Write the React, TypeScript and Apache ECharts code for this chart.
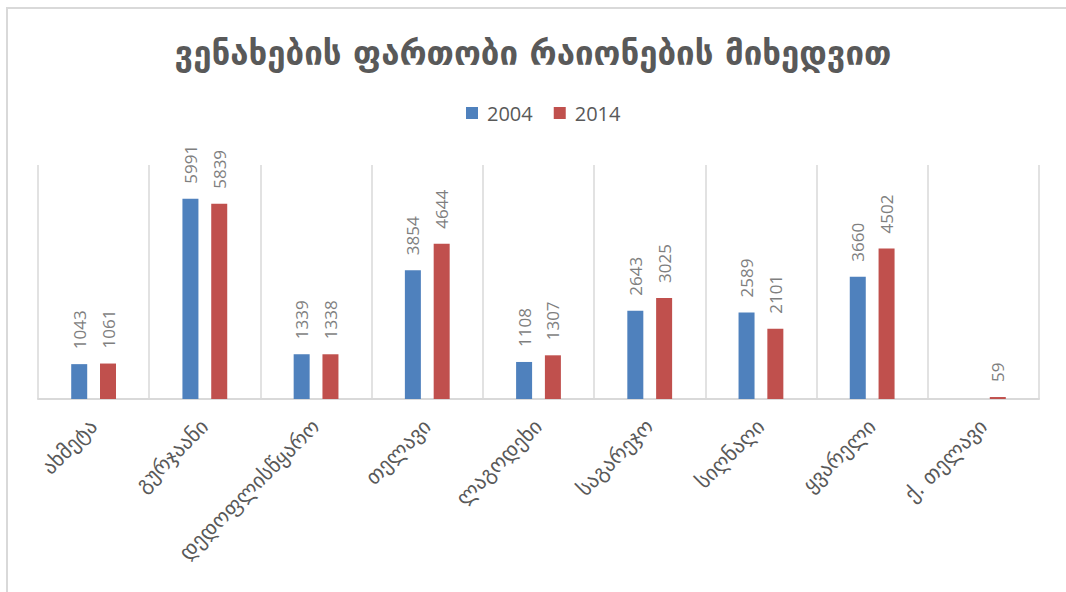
import React, { useEffect, useRef } from "react";
import * as echarts from "echarts";

const titleText = "ვენახების ფართობი რაიონების მიხედვით";
const categories = [
  "ახმეტა",
  "გურჯაანი",
  "დედოფლისწყარო",
  "თელავი",
  "ლაგოდეხი",
  "საგარეჯო",
  "სიღნაღი",
  "ყვარელი",
  "ქ. თელავი",
];
const seriesNames = ["2004", "2014"];
const values2004: (number | null)[] = [1043, 5991, 1339, 3854, 1108, 2643, 2589, 3660, null];
const values2014: (number | null)[] = [1061, 5839, 1338, 4644, 1307, 3025, 2101, 4502, 59];
const colors = ["#4F81BD", "#C0504D"];

export default function App() {
  const ref = useRef<HTMLDivElement>(null);
  useEffect(() => {
    if (!ref.current) return;
    const chart = echarts.init(ref.current, null, { renderer: "svg" });
    const labelCfg = {
      show: true,
      position: "top",
      rotate: 90,
      align: "left",
      verticalAlign: "middle",
      distance: 15,
      fontSize: 17,
      color: "#7f7f7f",
      fontFamily: "Open Sans, sans-serif",
    };
    chart.setOption({
      animation: false,
      backgroundColor: "#fff",
      title: {
        text: titleText,
        left: "center",
        top: 32,
        textStyle: {
          fontSize: 33,
          fontWeight: "bold",
          color: "#595959",
          fontFamily: "DejaVu Sans, sans-serif",
        },
      },
      legend: {
        data: seriesNames,
        top: 98,
        left: 461,
        itemWidth: 12,
        itemHeight: 12,
        itemGap: 21,
        icon: "rect",
        textStyle: {
          fontSize: 20,
          color: "#595959",
          fontFamily: "Open Sans, sans-serif",
          padding: [0, 0, 0, 4],
        },
      },
      graphic: [
        {
          type: "rect",
          shape: { x: 7, y: 8, width: 1080, height: 620 },
          style: { fill: "none", stroke: "#d9d9d9", lineWidth: 2 },
          silent: true,
        },
      ],
      grid: { left: 38, right: 27, top: 165, bottom: 193 },
      xAxis: {
        type: "category",
        data: categories,
        axisLine: { lineStyle: { color: "#d9d9d9", width: 2 } },
        axisTick: { show: false },
        splitLine: { show: true, lineStyle: { color: "#d9d9d9", width: 1.5 } },
        axisLabel: {
          rotate: 45,
          interval: 0,
          margin: 24,
          fontSize: 21,
          color: "#595959",
          fontFamily: "DejaVu Sans, sans-serif",
        },
      },
      yAxis: {
        type: "value",
        min: 0,
        max: 7000,
        show: false,
        splitLine: { show: false },
      },
      series: [
        {
          name: seriesNames[0],
          type: "bar",
          data: values2004,
          barWidth: 16,
          barGap: "80%",
          itemStyle: { color: colors[0] },
          label: labelCfg,
        },
        {
          name: seriesNames[1],
          type: "bar",
          data: values2014,
          barWidth: 16,
          barGap: "80%",
          itemStyle: { color: colors[1] },
          label: labelCfg,
        },
      ],
    });
    return () => chart.dispose();
  }, []);
  return (
    <div
      ref={ref}
      style={{ position: "absolute", left: 0, top: 0, width: 1066, height: 592 }}
    />
  );
}
